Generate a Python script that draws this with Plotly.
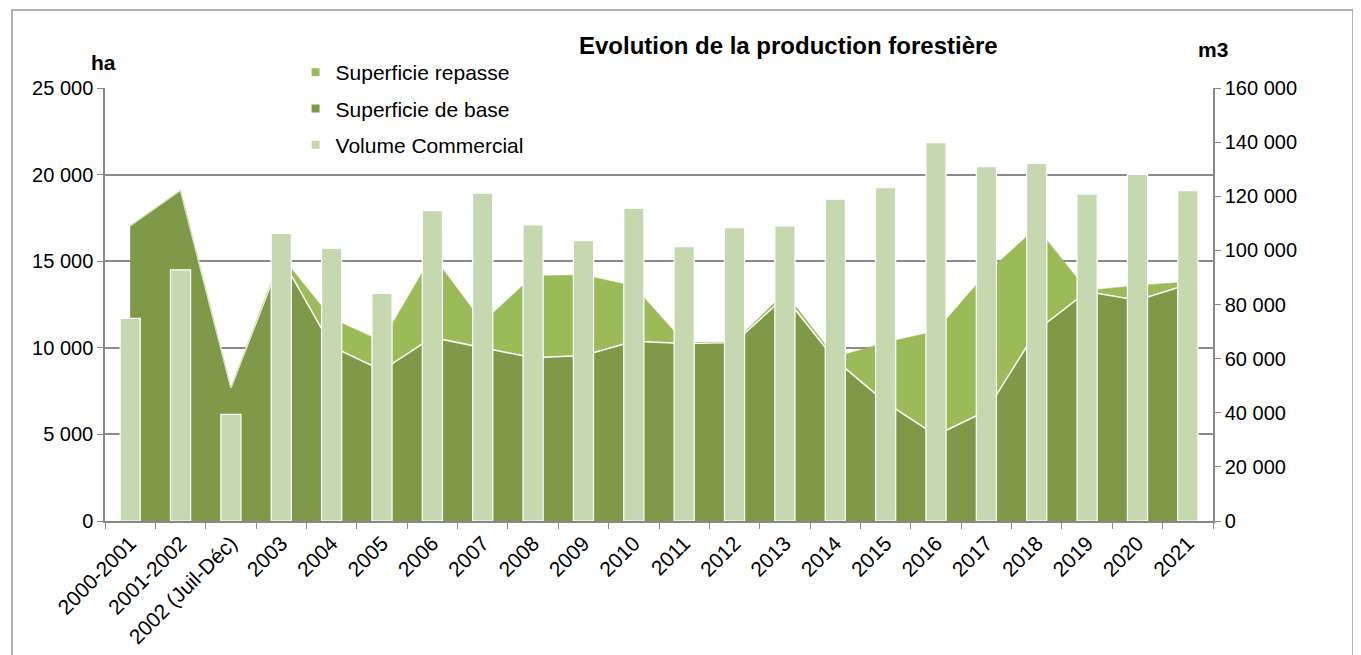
import plotly.graph_objects as go

# categories (years)
annees = ["2000-2001", "2001-2002", "2002 (Juil-Déc)", "2003", "2004", "2005",
          "2006", "2007", "2008", "2009", "2010", "2011", "2012", "2013",
          "2014", "2015", "2016", "2017", "2018", "2019", "2020", "2021"]

# ha - left axis
superficie_base = [17050, 19100, 7700, 15200, 10080, 8700, 10600, 10020, 9420, 9550,
                   10380, 10250, 10300, 12950, 9300, 6850, 4950, 6350, 11000, 13250,
                   12750, 13650]
superficie_repasse = [0, 0, 0, 100, 1600, 1670, 4750, 1430, 4730, 4650,
                      3170, 50, 30, 250, 150, 3450, 6000, 7950, 5950, 50,
                      850, 150]

# m3 - right axis
volume_commercial = [74900, 92800, 39400, 106300, 100800, 84100, 114700, 121100, 109400,
                     103600, 115600, 101400, 108400, 109000, 118900, 123200, 139800,
                     130900, 132100, 120800, 128100, 122100]

C_BASE = "#7E9A48"
C_REPASSE = "#9BBB59"
C_VOLUME = "#C6D8AF"
FONT = "Liberation Sans, Arial, sans-serif"

fig = go.Figure()

fig.add_trace(go.Scatter(x=annees, y=superficie_base, stackgroup="ha", mode="lines",
                         line=dict(color="white", width=1.5), fillcolor=C_BASE,
                         showlegend=False, name="Superficie de base"))
fig.add_trace(go.Scatter(x=annees, y=superficie_repasse, stackgroup="ha", mode="lines",
                         line=dict(color=C_REPASSE, width=0.5), fillcolor=C_REPASSE,
                         showlegend=False, name="Superficie repasse"))
fig.add_trace(go.Bar(x=annees, y=volume_commercial, yaxis="y2", width=0.4,
                     marker=dict(color=C_VOLUME, line=dict(color="white", width=1.2)),
                     showlegend=False, name="Volume Commercial"))

# legend entries with small square markers
for nom, col in [("Superficie repasse", C_REPASSE), ("Superficie de base", C_BASE),
                 ("Volume Commercial", C_VOLUME)]:
    fig.add_trace(go.Scatter(x=[None], y=[None], mode="markers", name=nom,
                             legendgroup=nom,
                             marker=dict(symbol="square", size=8, color=col)))

# page body has an 8px margin, so the figure is a bit smaller than the window
fig.update_layout(
    width=1353, height=647,
    margin=dict(l=97, r=148, t=80, b=134),
    paper_bgcolor="white", plot_bgcolor="white",
    separators=", ",
    font=dict(family=FONT, size=20, color="black"),
    showlegend=True,
    legend=dict(x=0.172, y=1.083, xanchor="left", yanchor="top",
                bgcolor="rgba(0,0,0,0)", font=dict(size=21, family=FONT),
                tracegroupgap=6, itemwidth=30),
    xaxis=dict(type="category", tickson="boundaries", ticks="outside", ticklen=6,
               tickcolor="#888", showline=True, linecolor="#888", linewidth=1.5,
               showgrid=False, tickangle=-45, tickfont=dict(size=21),
               automargin=False),
    yaxis=dict(range=[0, 25000], dtick=5000, tickformat=",d", ticks="outside",
               ticklen=6, tickcolor="#888", showline=True, linecolor="#888",
               linewidth=1.5, showgrid=True, gridcolor="#8a8a8a", gridwidth=1.5,
               zeroline=False, tickfont=dict(size=20), automargin=False),
    yaxis2=dict(range=[0, 160000], dtick=20000, tickformat=",d", overlaying="y",
                side="right", ticks="outside", ticklen=6, tickcolor="#888",
                showline=True, linecolor="#888", linewidth=1.5, showgrid=False,
                zeroline=False, tickfont=dict(size=20), automargin=False),
    annotations=[
        dict(text="<b>Evolution de la production forestière</b>", x=0.617, y=1.099,
             xanchor="center", yanchor="middle",
             xref="paper", yref="paper", showarrow=False, font=dict(size=24)),
        dict(text="<b>ha</b>", x=-0.0018, y=1.06, xanchor="center", yanchor="middle",
             xref="paper", yref="paper", showarrow=False, font=dict(size=21)),
        dict(text="<b>m3</b>", x=1.0, y=1.088, xanchor="center", yanchor="middle",
             xref="paper", yref="paper", showarrow=False, font=dict(size=21)),
    ],
    shapes=[dict(type="rect", xref="paper", yref="paper", x0=-0.0839, x1=1.1264,
                 y0=-0.4, y1=1.18, line=dict(color="#999", width=1.5),
                 layer="below")],
)

fig.write_html("out.html")
